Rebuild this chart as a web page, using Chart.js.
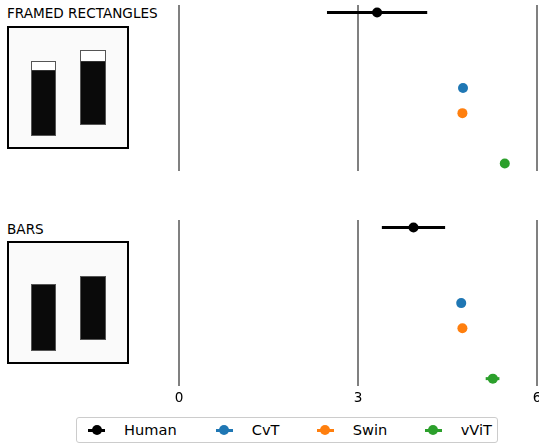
<!DOCTYPE html>
<html><head><meta charset="utf-8">
<script src="https://cdn.jsdelivr.net/npm/chart.js@4"></script>
<style>
html,body{margin:0;padding:0;width:539px;height:445px;overflow:hidden;background:#fff;font-family:"DejaVu Sans",sans-serif;}
.abs{position:absolute;}
.title{position:absolute;left:7px;font-size:13.6px;line-height:13.6px;color:#000;white-space:nowrap;}
.stim{position:absolute;left:7px;width:122px;height:123px;box-sizing:border-box;border:2px solid #000;background:#fafafa;}
.bar{position:absolute;box-sizing:border-box;border:1px solid #555;background:#0a0a0a;}
.cap{position:absolute;left:0;top:0;width:100%;background:#fff;border-bottom:1px solid #333;box-sizing:border-box;}
.legend{position:absolute;left:76px;top:417px;width:422px;height:26px;box-sizing:border-box;border:1px solid #cccccc;border-radius:3px;background:#fff;}
.lline{position:absolute;height:3px;width:17px;}
.ldot{position:absolute;width:10px;height:10px;border-radius:50%;}
.ltext{position:absolute;font-size:14.6px;line-height:14.6px;color:#000;white-space:nowrap;}
</style></head><body>
<div class="title" id="t0"></div>
<div class="title" id="t1"></div>
<div class="stim" style="top:26px"></div>
<div class="bar" style="left:31px;top:61px;width:25px;height:75px"><div class="cap" style="height:9px"></div></div>
<div class="bar" style="left:80px;top:50px;width:26px;height:75px"><div class="cap" style="height:11px"></div></div>
<div class="stim" style="top:241px;height:123px"></div>
<div class="bar" style="left:31px;top:284px;width:25px;height:67px"></div>
<div class="bar" style="left:80px;top:276px;width:26px;height:64px"></div>
<canvas id="c0" class="abs" style="left:0;top:0"></canvas>
<canvas id="c1" class="abs" style="left:0;top:210px"></canvas>
<div class="legend" id="legend"></div>
<script>
const models = ['Human','CvT','Swin','vViT'];
const colors = ['#000000','#1f77b4','#ff7f0e','#2ca02c'];
const rowPositions = [0,3,4,6];
const panelTitles = ['FRAMED RECTANGLES','BARS'];
const xTicks = [0,3,6];
const framedMean = [3.32,4.76,4.75,5.46];
const framedLow  = [2.48,4.76,4.75,5.44];
const framedHigh = [4.16,4.76,4.75,5.48];
const barsMean = [3.93,4.73,4.75,5.26];
const barsLow  = [3.40,4.73,4.75,5.14];
const barsHigh = [4.46,4.73,4.75,5.37];

document.getElementById('t0').textContent = panelTitles[0];
document.getElementById('t0').style.top = '6.8px';
document.getElementById('t1').textContent = panelTitles[1];
document.getElementById('t1').style.top = '222.5px';

Chart.defaults.font.family = '"DejaVu Sans", sans-serif';

const errorBars = {
  id:'errorBars',
  beforeDatasetsDraw(chart){
    const ctx = chart.ctx, xs = chart.scales.x, ys = chart.scales.y;
    chart.data.datasets.forEach(ds => {
      ds.data.forEach(p => {
        const y = ys.getPixelForValue(p.y);
        ctx.save();
        ctx.strokeStyle = ds.borderColor;
        ctx.lineWidth = 3;
        ctx.beginPath();
        ctx.moveTo(xs.getPixelForValue(p.xMin), y);
        ctx.lineTo(xs.getPixelForValue(p.xMax), y);
        ctx.stroke();
        ctx.restore();
      });
    });
  }
};

function makeChart(id, w, h, mean, low, high, showTicks, pad){
  const cv = document.getElementById(id);
  cv.width = w; cv.height = h; cv.style.width = w+'px'; cv.style.height = h+'px';
  const datasets = models.map((m,i) => ({
    label: m,
    data: [{x: mean[i], y: rowPositions[i], xMin: low[i], xMax: high[i]}],
    backgroundColor: colors[i],
    borderColor: colors[i],
    pointRadius: 5,
    pointBorderWidth: 0,
    showLine: false
  }));
  return new Chart(cv, {
    type: 'scatter',
    data: {datasets},
    options: {
      responsive: false,
      animation: false,
      devicePixelRatio: 1,
      layout: {padding: pad},
      plugins: {legend:{display:false}, tooltip:{enabled:false}},
      scales: {
        x: {
          type:'linear', min:0, max:6,
          afterBuildTicks: s => { s.ticks = xTicks.map(v => ({value:v})); },
          ticks: {display: showTicks, color:'#000', font:{size:13.6}, padding:4},
          grid: {color:'#808080', lineWidth:2, drawTicks:false},
          border: {display:false}
        },
        y: {type:'linear', min:-0.3, max:6.3, reverse:true, display:false}
      }
    },
    plugins: [errorBars]
  });
}

makeChart('c0', 560, 180, framedMean, framedLow, framedHigh, false, {left:179, right:23, top:5, bottom:9});
makeChart('c1', 560, 215, barsMean, barsLow, barsHigh, true, {left:179, right:23, top:10, bottom:14.5});

const lg = document.getElementById('legend');
const markerX = [96.7, 224, 325, 433];
const textX = [124, 251.7, 352.7, 460.7];
models.forEach((m,i) => {
  const ln = document.createElement('div'); ln.className='lline';
  ln.style.background = colors[i];
  ln.style.left = (markerX[i]-8.5-77)+'px'; ln.style.top = (430-1.5-418)+'px';
  lg.appendChild(ln);
  const d = document.createElement('div'); d.className='ldot';
  d.style.background = colors[i];
  d.style.left = (markerX[i]-5-77)+'px'; d.style.top = (430-5-418)+'px';
  lg.appendChild(d);
  const t = document.createElement('div'); t.className='ltext';
  t.textContent = m;
  t.style.left = (textX[i]-77)+'px'; t.style.top = (423.3-418)+'px';
  lg.appendChild(t);
});
</script>
</body></html>
